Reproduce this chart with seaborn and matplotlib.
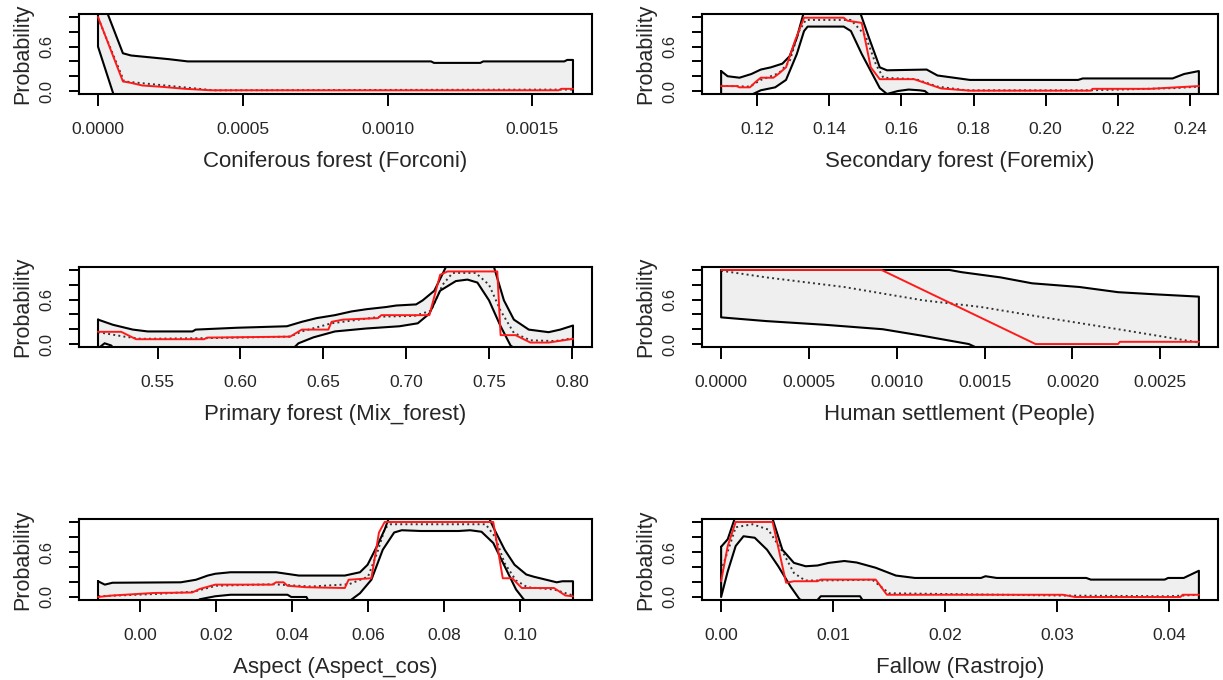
import matplotlib
matplotlib.use("Agg")
import matplotlib.pyplot as plt
import seaborn as sns

# ---- Coniferous forest (Forconi)
forconi_up_x = [0, 0.000086, 0.000114, 0.000245, 0.00031, 0.00115, 0.00116, 0.00132, 0.00133, 0.00161, 0.00162, 0.00164]
forconi_up_y = [1.38, 0.51, 0.48, 0.43, 0.40, 0.40, 0.38, 0.38, 0.40, 0.40, 0.42, 0.42]
forconi_lo_x = [0, 0.000058, 0.00164]
forconi_lo_y = [0.60, -0.10, -0.10]
forconi_fit_x = [0, 0.000086, 0.000114, 0.000153, 0.00022, 0.0003, 0.00039, 0.00159, 0.0016, 0.00164]
forconi_fit_y = [1.0, 0.13, 0.11, 0.075, 0.057, 0.03, 0.01, 0.01, 0.03, 0.03]
forconi_mean_x = [0, 0.00009, 0.0004, 0.00164]
forconi_mean_y = [0.99, 0.13, 0.01, 0.02]

# ---- Secondary forest (Foremix)
foremix_up_x = [0.110, 0.1118, 0.1151, 0.1184, 0.121, 0.1238, 0.127, 0.129, 0.131, 0.1328, 0.135, 0.147,
                0.1487, 0.151, 0.154, 0.156, 0.167, 0.170, 0.179, 0.209, 0.2103, 0.2352, 0.2384, 0.2425]
foremix_up_y = [0.27, 0.20, 0.18, 0.23, 0.29, 0.32, 0.37, 0.47, 0.72, 1.04, 1.15, 1.15,
                1.04, 0.72, 0.32, 0.28, 0.29, 0.21, 0.15, 0.15, 0.17, 0.17, 0.23, 0.27]
foremix_lo_x = [0.110, 0.117, 0.118, 0.121, 0.125, 0.128, 0.131, 0.133, 0.134, 0.144, 0.146, 0.149, 0.154,
                0.156, 0.159, 0.162, 0.165, 0.1665, 0.169, 0.2425]
foremix_lo_y = [-0.10, -0.08, -0.06, 0.01, 0.05, 0.15, 0.50, 0.81, 0.87, 0.87, 0.81, 0.50, 0.04,
                -0.04, 0.0, 0.02, 0.01, 0.0, -0.10, -0.10]
foremix_fit_x = [0.110, 0.1145, 0.115, 0.118, 0.1195, 0.121, 0.1245, 0.126, 0.128, 0.1305, 0.133, 0.144,
                 0.145, 0.149, 0.1515, 0.154, 0.1635, 0.171, 0.179, 0.2125, 0.213, 0.229, 0.2363, 0.2425]
foremix_fit_y = [0.067, 0.067, 0.05, 0.05, 0.12, 0.18, 0.18, 0.235, 0.32, 0.68, 0.99, 0.99,
                 0.95, 0.92, 0.32, 0.16, 0.16, 0.035, 0.005, 0.005, 0.03, 0.03, 0.05, 0.067]
foremix_mean_x = [0.110, 0.118, 0.121, 0.126, 0.129, 0.1315, 0.1335, 0.146, 0.150, 0.153, 0.155, 0.164,
                  0.170, 0.178, 0.2125, 0.236, 0.2425]
foremix_mean_y = [0.07, 0.06, 0.15, 0.24, 0.40, 0.80, 0.96, 0.96, 0.75, 0.35, 0.18, 0.16,
                  0.06, 0.01, 0.01, 0.04, 0.06]

# ---- Primary forest (Mix_forest)
mixf_up_x = [0.514, 0.523, 0.535, 0.544, 0.571, 0.573, 0.598, 0.628, 0.637, 0.646, 0.657, 0.667, 0.676,
             0.688, 0.694, 0.706, 0.710, 0.717, 0.724, 0.728, 0.749, 0.753, 0.759, 0.765, 0.774, 0.786,
             0.793, 0.8007]
mixf_up_y = [0.33, 0.26, 0.195, 0.17, 0.17, 0.195, 0.22, 0.24, 0.30, 0.35, 0.39, 0.44, 0.47,
             0.50, 0.52, 0.535, 0.59, 0.72, 1.04, 1.15, 1.15, 1.04, 0.59, 0.33, 0.195, 0.16,
             0.195, 0.25]
mixf_lo_x = [0.514, 0.518, 0.522, 0.525, 0.630, 0.635, 0.644, 0.657, 0.676, 0.696, 0.707, 0.714, 0.7205,
             0.730, 0.737, 0.743, 0.750, 0.757, 0.763, 0.768, 0.8007]
mixf_lo_y = [-0.06, 0.01, -0.02, -0.10, -0.10, 0.01, 0.09, 0.17, 0.21, 0.24, 0.28, 0.41, 0.72,
             0.85, 0.87, 0.83, 0.59, 0.24, -0.02, -0.10, -0.10]
mixf_fit_x = [0.514, 0.528, 0.537, 0.578, 0.580, 0.630, 0.637, 0.653, 0.655, 0.662, 0.683, 0.685, 0.714,
              0.7205, 0.725, 0.755, 0.757, 0.766, 0.775, 0.786, 0.8007]
mixf_fit_y = [0.165, 0.165, 0.065, 0.065, 0.087, 0.10, 0.195, 0.195, 0.30, 0.33, 0.35, 0.39, 0.39,
              0.935, 0.98, 0.98, 0.12, 0.12, 0.02, 0.02, 0.07]
mixf_mean_x = [0.514, 0.53, 0.54, 0.58, 0.63, 0.637, 0.655, 0.685, 0.705, 0.715, 0.722, 0.728, 0.742,
               0.750, 0.757, 0.765, 0.775, 0.79, 0.8007]
mixf_mean_y = [0.16, 0.10, 0.07, 0.08, 0.10, 0.17, 0.28, 0.37, 0.38, 0.45, 0.80, 0.96, 0.96,
               0.80, 0.45, 0.15, 0.05, 0.04, 0.08]

# ---- Human settlement (People)
people_up_x = [0, 0.0013, 0.00137, 0.00159, 0.00177, 0.00204, 0.00226, 0.00248, 0.00272]
people_up_y = [1.0, 1.0, 0.97, 0.90, 0.82, 0.77, 0.70, 0.67, 0.64]
people_lo_x = [0, 0.000256, 0.00059, 0.00092, 0.00115, 0.00141, 0.0015, 0.00272]
people_lo_y = [0.36, 0.31, 0.26, 0.20, 0.11, 0.0, -0.10, -0.10]
people_fit_x = [0, 0.000913, 0.00179, 0.00226, 0.00227, 0.00272]
people_fit_y = [1.0, 1.0, 0.0, 0.0, 0.03, 0.03]
people_mean_x = [0, 0.000256, 0.0007, 0.00115, 0.00148, 0.00181, 0.00226, 0.00272]
people_mean_y = [0.99, 0.90, 0.77, 0.59, 0.50, 0.37, 0.20, 0.02]

# ---- Aspect (Aspect_cos)
aspect_up_x = [-0.0111, -0.0093, -0.0073, 0.0107, 0.0147, 0.0178, 0.0198, 0.0238, 0.0358, 0.0418, 0.0539,
               0.0579, 0.0599, 0.0624, 0.0644, 0.0654, 0.067, 0.09, 0.092, 0.0935, 0.096, 0.0986, 0.1017,
               0.1037, 0.1097, 0.1112, 0.114]
aspect_up_y = [0.21, 0.165, 0.19, 0.196, 0.23, 0.286, 0.31, 0.33, 0.33, 0.286, 0.286,
               0.33, 0.43, 0.68, 0.90, 1.04, 1.15, 1.15, 1.04, 0.88, 0.63, 0.43, 0.30,
               0.27, 0.196, 0.21, 0.21]
aspect_lo_x = [-0.0111, 0.0140, 0.0157, 0.0198, 0.0238, 0.0388, 0.0398, 0.0438, 0.0448, 0.0539, 0.0579,
               0.0609, 0.0639, 0.0669, 0.0689, 0.0739, 0.0839, 0.0869, 0.0899, 0.093, 0.096, 0.099, 0.101,
               0.103, 0.114]
aspect_lo_y = [-0.10, -0.10, -0.03, 0.01, 0.03, 0.03, 0.0, 0.0, -0.10, -0.10, 0.05,
               0.23, 0.63, 0.86, 0.89, 0.88, 0.88, 0.89, 0.87, 0.72, 0.41, 0.10, -0.03,
               -0.10, -0.10]
aspect_fit_x = [-0.0111, -0.0073, 0.0037, 0.0137, 0.0157, 0.0198, 0.0348, 0.0358, 0.0378, 0.0388, 0.0438,
                0.0539, 0.0549, 0.0609, 0.0629, 0.0644, 0.093, 0.0955, 0.098, 0.1005, 0.109, 0.112, 0.114]
aspect_fit_y = [0.0, 0.02, 0.054, 0.06, 0.107, 0.165, 0.165, 0.196, 0.196, 0.15, 0.13,
                0.12, 0.23, 0.25, 0.86, 1.0, 1.0, 0.25, 0.25, 0.12, 0.12, 0.02, 0.01]
aspect_mean_x = [-0.011, 0.004, 0.014, 0.02, 0.035, 0.045, 0.055, 0.06, 0.0625, 0.0645, 0.066, 0.091,
                 0.0935, 0.096, 0.099, 0.102, 0.109, 0.114]
aspect_mean_y = [0.01, 0.04, 0.07, 0.15, 0.17, 0.14, 0.17, 0.27, 0.60, 0.92, 0.97, 0.97,
                 0.80, 0.45, 0.22, 0.13, 0.10, 0.02]

# ---- Fallow (Rastrojo)
rastrojo_up_x = [0, 0.00059, 0.0012, 0.0014, 0.0044, 0.0046, 0.00547, 0.0065, 0.00755, 0.0086, 0.0096,
                 0.011, 0.0121, 0.0138, 0.0156, 0.0173, 0.0232, 0.0236, 0.0246, 0.0326, 0.033, 0.0396,
                 0.0399, 0.0413, 0.04265]
rastrojo_up_y = [0.67, 0.77, 1.04, 1.15, 1.15, 1.04, 0.63, 0.455, 0.41, 0.42, 0.455,
                 0.48, 0.46, 0.39, 0.286, 0.254, 0.254, 0.277, 0.254, 0.254, 0.232, 0.232,
                 0.254, 0.254, 0.35]
rastrojo_lo_x = [0, 0.00059, 0.0013, 0.002, 0.003, 0.0041, 0.0051, 0.0062, 0.007, 0.0075, 0.0086,
                 0.0089, 0.0124, 0.0127, 0.04265]
rastrojo_lo_y = [0.0, 0.34, 0.68, 0.81, 0.79, 0.63, 0.41, 0.14, -0.03, -0.06, -0.04,
                 0.01, 0.01, -0.06, -0.10]
rastrojo_fit_x = [0, 0.00059, 0.0013, 0.0046, 0.0058, 0.0065, 0.0086, 0.0089, 0.0138, 0.0148, 0.0305,
                  0.0316, 0.041, 0.0412, 0.04265]
rastrojo_fit_y = [0.21, 0.68, 1.0, 1.0, 0.19, 0.21, 0.21, 0.232, 0.232, 0.03, 0.03,
                  0.0, 0.0, 0.03, 0.03]
rastrojo_mean_x = [0, 0.0008, 0.0013, 0.0028, 0.0042, 0.0055, 0.0065, 0.0075, 0.009, 0.0135, 0.015,
                   0.03, 0.04, 0.04265]
rastrojo_mean_y = [0.35, 0.70, 0.93, 0.97, 0.90, 0.60, 0.32, 0.22, 0.22, 0.23, 0.05,
                   0.02, 0.01, 0.03]

# axis labels and ticks
x_labels = ["Coniferous forest (Forconi)", "Secondary forest (Foremix)", "Primary forest (Mix_forest)",
            "Human settlement (People)", "Aspect (Aspect_cos)", "Fallow (Rastrojo)"]
x_ticks = [[0, 0.0005, 0.0010, 0.0015],
           [0.12, 0.14, 0.16, 0.18, 0.20, 0.22, 0.24],
           [0.55, 0.60, 0.65, 0.70, 0.75, 0.80],
           [0, 0.0005, 0.0010, 0.0015, 0.0020, 0.0025],
           [0.00, 0.02, 0.04, 0.06, 0.08, 0.10],
           [0.00, 0.01, 0.02, 0.03, 0.04]]
x_fmt = ["{:.4f}", "{:.2f}", "{:.2f}", "{:.4f}", "{:.2f}", "{:.2f}"]
y_ticks = [0, 0.2, 0.4, 0.6, 0.8, 1.0]
y_ticklabels = ["0.0", "", "", "0.6", "", ""]

panels = [
    (forconi_up_x, forconi_up_y, forconi_lo_x, forconi_lo_y, forconi_fit_x, forconi_fit_y, forconi_mean_x, forconi_mean_y),
    (foremix_up_x, foremix_up_y, foremix_lo_x, foremix_lo_y, foremix_fit_x, foremix_fit_y, foremix_mean_x, foremix_mean_y),
    (mixf_up_x, mixf_up_y, mixf_lo_x, mixf_lo_y, mixf_fit_x, mixf_fit_y, mixf_mean_x, mixf_mean_y),
    (people_up_x, people_up_y, people_lo_x, people_lo_y, people_fit_x, people_fit_y, people_mean_x, people_mean_y),
    (aspect_up_x, aspect_up_y, aspect_lo_x, aspect_lo_y, aspect_fit_x, aspect_fit_y, aspect_mean_x, aspect_mean_y),
    (rastrojo_up_x, rastrojo_up_y, rastrojo_lo_x, rastrojo_lo_y, rastrojo_fit_x, rastrojo_fit_y, rastrojo_mean_x, rastrojo_mean_y),
]

sns.set_theme(style="ticks")
plt.rcParams["font.family"] = ["Liberation Sans", "DejaVu Sans"]

fig = plt.figure(figsize=(12.23, 6.8), dpi=100)

# box positions in pixels (left, top, right, bottom)
col_px = [(79, 592), (702, 1218)]
row_px = [(14, 94), (267, 347), (519, 600)]

for i, (ux, uy, lx, ly, fx, fy, mx, my) in enumerate(panels):
    r, c = divmod(i, 2)
    l, rr = col_px[c]
    t, b = row_px[r]
    ax = fig.add_axes([l / 1223, 1 - b / 680, (rr - l) / 1223, (b - t) / 680])

    # polygon of the band: upper then reversed lower, closed
    px = list(ux) + list(lx[::-1]) + [ux[0]]
    py = list(uy) + list(ly[::-1]) + [uy[0]]
    ax.fill(px, py, color="#efefef", lw=0, zorder=1)
    sns.lineplot(x=mx, y=my, ax=ax, color="#333333", linewidth=1.4, linestyle=":",
                 estimator=None, sort=False, zorder=2)
    sns.lineplot(x=px, y=py, ax=ax, color="black", linewidth=1.5,
                 estimator=None, sort=False, zorder=3)
    sns.lineplot(x=fx, y=fy, ax=ax, color="#ff1a1a", linewidth=1.4,
                 estimator=None, sort=False, zorder=4)

    xmin, xmax = min(ux), max(ux)
    pad = (xmax - xmin) * 0.04
    ax.set_xlim(xmin - pad, xmax + pad)
    ax.set_ylim(-0.04, 1.04)

    ax.set_yticks(y_ticks)
    ax.set_yticklabels(y_ticklabels, rotation=90, va="center", fontsize=12)
    ax.set_xticks(x_ticks[i])
    ax.set_xticklabels([x_fmt[i].format(v) for v in x_ticks[i]], fontsize=12.5)
    ax.tick_params(axis="y", length=7.5, width=1.4, pad=10, color="black")
    ax.tick_params(axis="x", length=8.5, width=1.4, pad=12, color="black")

    ax.set_ylabel("Probability", fontsize=15.5, labelpad=5)
    ax.set_xlabel(x_labels[i], fontsize=16, labelpad=10)

    for sp in ax.spines.values():
        sp.set_visible(True)
        sp.set_linewidth(1.5)
        sp.set_color("black")

fig.savefig("out.png", dpi=100)
